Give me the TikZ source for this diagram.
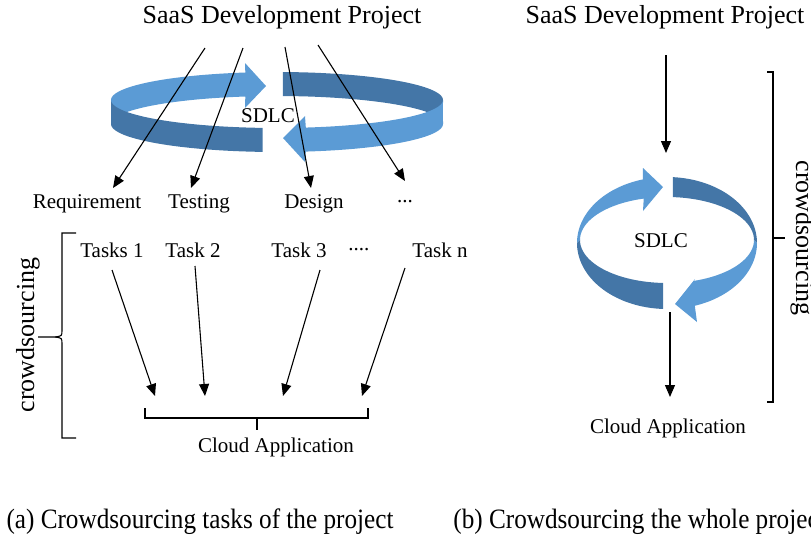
\documentclass[tikz,border=0pt]{standalone}
\usepackage{fontspec}
\setmainfont{Liberation Serif}
\newfontfamily\capfont[FakeStretch=0.9]{Liberation Serif}
\usetikzlibrary{arrows.meta}

\definecolor{ringlight}{RGB}{91,155,213}
\definecolor{ringdark}{RGB}{68,118,167}

\tikzset{
    lbl/.style={font=\fontsize{10.5}{12}\selectfont, inner sep=1pt},
    head/.style={font=\fontsize{13}{15}\selectfont, inner sep=1pt},
    capt/.style={font=\capfont\fontsize{14}{16}\selectfont, inner sep=0pt},
    flow/.style={line width=0.55pt, -{Triangle[length=6pt,width=5pt]}},
    brk/.style={line width=0.55pt},
}

\begin{document}
\begin{tikzpicture}[x=0.5pt, y=-0.5pt]
        \useasboundingbox (0,0) rectangle (811,542);
        \clip (0,0) rectangle (811,542);

        % (a) tasks of the project
        \node[head] (projA) at (282,17) {SaaS Development Project};

        % flat ring, back half first
        \fill[ringlight] plot[domain=101:180,samples=40] ({277+166*cos(\x)},{100-28*sin(\x)})
            -- plot[domain=180:101,samples=40] ({277+166*cos(\x)},{124-28*sin(\x)})
            -- (245,108) -- (266,86) -- (245,63) -- cycle;
        \fill[ringdark] plot[domain=88:0,samples=40] ({277+166*cos(\x)},{100-28*sin(\x)})
            -- plot[domain=0:88,samples=40] ({277+166*cos(\x)},{124-28*sin(\x)}) -- cycle;
        \fill[ringdark] plot[domain=180:265,samples=40] ({277+166*cos(\x)},{100-28*sin(\x)})
            -- plot[domain=265:180,samples=40] ({277+166*cos(\x)},{124-28*sin(\x)}) -- cycle;
        \fill[ringlight] plot[domain=0:-80,samples=40] ({277+166*cos(\x)},{100-28*sin(\x)})
            -- (305,116) -- (283,138) -- (305,162)
            -- plot[domain=-80:0,samples=40] ({277+166*cos(\x)},{124-28*sin(\x)}) -- cycle;
        \node[lbl] (sdlcA) at (268,116) {SDLC};

        % phases
        \node[lbl] (req) at (87,204) {Requirement};
        \node[lbl] (test) at (199,204) {Testing};
        \node[lbl] (des) at (314,204) {Design};
        \node[lbl] (more) at (405,202) {...};

        \coordinate (p1) at (205,48);
        \coordinate (p2) at (243,48);
        \coordinate (p3) at (285,47);
        \coordinate (p4) at (318,45);
        \coordinate (q1) at (113,188);
        \coordinate (q2) at (191,188);
        \coordinate (q3) at (311,188);
        \coordinate (q4) at (405,181);
        \foreach \i in {1,...,4}
            \draw[flow] (p\i) -- (q\i);

        % tasks
        \node[lbl] (t1) at (112,250) {Tasks 1};
        \node[lbl] (t2) at (193,250) {Task 2};
        \node[lbl] (t3) at (299,250) {Task 3};
        \node[lbl] (tdots) at (359,250) {....};
        \node[lbl] (tn) at (440,250) {Task n};

        \coordinate (s1) at (112,270);
        \coordinate (s2) at (195,266);
        \coordinate (s3) at (320,270);
        \coordinate (s4) at (405,268);
        \coordinate (e1) at (155,396);
        \coordinate (e2) at (205,396);
        \coordinate (e3) at (283,396);
        \coordinate (e4) at (362,396);
        \foreach \i in {1,...,4}
            \draw[flow] (s\i) -- (e\i);

        % bracket under the tasks
        \draw[brk] (145,408) -- (145,418) -- (368,418) -- (368,408);
        \coordinate (brA) at (257,418);
        \node[lbl] (cloudA) at (276,447) {Cloud Application};
        \draw[brk] (brA) -- ++(0,12);

        % left brace
        \draw[brk] (76,233) -- (62,233) -- (62,330) .. controls (62,336) .. (55,337) -- (38,337);
        \draw[brk] (55,337) .. controls (62,338) .. (62,344) -- (62,438) -- (76,438);
        \node[head, rotate=90, anchor=base] (crowdA) at (34,335) {crowdsourcing};

        % (b) the whole project
        \node[head] (projB) at (665,17) {SaaS Development Project};
        \coordinate (inB) at (666,55);
        \coordinate (ringtop) at (666,153);
        \draw[flow] (inB) -- (ringtop);

        % ring seen from the side: outer edge and inner edge
        \fill[ringlight] plot[domain=105.5:180,samples=40] ({667+90*cos(\x)},{243-66*sin(\x)})
            -- plot[domain=180:105.5,samples=40] ({667+87*cos(\x)},{240-43*sin(\x)})
            -- (643,211) -- (663,187) -- (643,168) -- cycle;
        \fill[ringdark] plot[domain=86.2:0,samples=40] ({667+90*cos(\x)},{243-66*sin(\x)})
            -- plot[domain=0:86.2,samples=40] ({667+87*cos(\x)},{240-43*sin(\x)}) -- cycle;
        \fill[ringdark] plot[domain=180:267.5,samples=40] ({667+90*cos(\x)},{243-66*sin(\x)})
            -- plot[domain=267.5:180,samples=40] ({667+87*cos(\x)},{240-43*sin(\x)}) -- cycle;
        \fill[ringlight] plot[domain=0:-72,samples=40] ({667+90*cos(\x)},{243-66*sin(\x)})
            -- (697,322) -- (675,304) -- (695,279)
            -- plot[domain=-72:0,samples=40] ({667+87*cos(\x)},{240-43*sin(\x)}) -- cycle;
        \node[lbl] (sdlcB) at (661,241) {SDLC};

        \coordinate (ringbot) at (670,312);
        \coordinate (outB) at (670,397);
        \draw[flow] (ringbot) -- (outB);
        \node[lbl] (cloudB) at (668,428) {Cloud Application};

        % right brace
        \draw[brk] (767,72) -- (773,72) -- (773,402) -- (767,402);
        \coordinate (brB) at (773,238);
        \draw[brk] (brB) -- ++(12,0);
        \node[head, rotate=-90, anchor=base] (crowdB) at (796,238) {crowdsourcing};

        % captions
        \node[capt] (captA) at (200,522) {(a) Crowdsourcing tasks of the project};
        \node[capt, anchor=west] (captB) at (453,522) {(b) Crowdsourcing the whole project};
\end{tikzpicture}
\end{document}
